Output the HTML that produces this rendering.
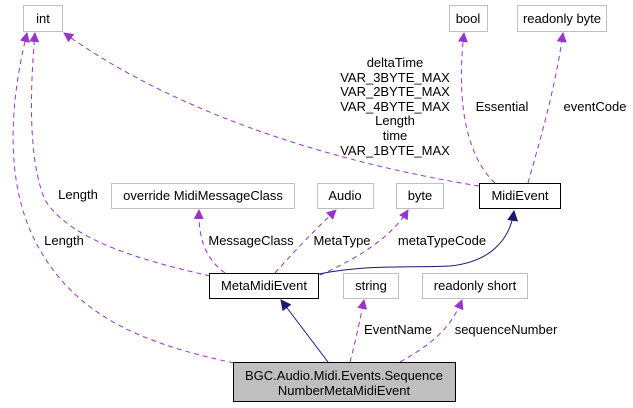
<!DOCTYPE html>
<html><head><style>body{margin:0;background:#fff}svg{display:block}</style></head><body>
<svg width="633" height="408" viewBox="0 0 633 408" xmlns="http://www.w3.org/2000/svg" font-family="Liberation Sans, sans-serif" font-size="13">
<defs>
<marker id="pa" viewBox="0 0 10 10" refX="9" refY="5" markerWidth="10" markerHeight="10" markerUnits="userSpaceOnUse" orient="auto"><path d="M0,0L10,5L0,10z" fill="#9a32cd"/></marker>
<marker id="na" viewBox="0 0 10 10" refX="9" refY="5" markerWidth="11" markerHeight="11" markerUnits="userSpaceOnUse" orient="auto"><path d="M0,0L10,5L0,10z" fill="#191970"/></marker>
</defs>
<g fill="none" stroke="#9a32cd" stroke-dasharray="5,4">
<path d="M234,363 C150,345 80,320 40,250 C5,190 8,110 27,33" marker-end="url(#pa)"/>
<path d="M210,276 C140,260 70,240 45,200 C28,160 30,90 35,33" marker-end="url(#pa)"/>
<path d="M479,186 C380,170 200,130 64,33" marker-end="url(#pa)"/>
<path d="M495,183 C470,160 455,110 464,33" marker-end="url(#pa)"/>
<path d="M528,183 C540,140 555,90 563,33" marker-end="url(#pa)"/>
<path d="M225,273 C210,262 198,245 199,210" marker-end="url(#pa)"/>
<path d="M275,273 C300,245 320,225 336,210" marker-end="url(#pa)"/>
<path d="M320,275 C350,262 390,240 408,210" marker-end="url(#pa)"/>
<path d="M350,362 C356,340 362,310 364,300" marker-end="url(#pa)"/>
<path d="M400,362 C430,345 450,330 462,300" marker-end="url(#pa)"/>
</g>
<g fill="none" stroke="#191970" stroke-width="1">
<path d="M319,274 C370,264 410,268 450,266 C490,262 510,240 514,211" marker-end="url(#na)"/>
<path d="M328,362 L281,300" marker-end="url(#na)"/>
</g>
<g fill="#fff" stroke="#bfbfbf">
<rect x="23.5" y="5.5" width="39" height="26"/>
<rect x="449.5" y="5.5" width="38" height="26"/>
<rect x="517.5" y="5.5" width="89" height="26"/>
<rect x="111.5" y="183.5" width="183" height="25"/>
<rect x="317.5" y="183.5" width="56" height="25"/>
<rect x="396.5" y="183.5" width="47" height="25"/>
<rect x="343.5" y="273.5" width="55" height="25"/>
<rect x="422.5" y="273.5" width="105" height="25"/>
</g>
<g stroke="#000" fill="#fff">
<rect x="479.5" y="183.5" width="81" height="25"/>
<rect x="209.5" y="273.5" width="109" height="25"/>
<rect x="233.5" y="362.5" width="222" height="39" fill="#bfbfbf"/>
</g>
<g fill="#000" text-anchor="middle">
<text x="43" y="23">int</text>
<text x="468" y="23">bool</text>
<text x="562" y="23">readonly byte</text>
<text x="203" y="200">override MidiMessageClass</text>
<text x="345" y="200">Audio</text>
<text x="420" y="200">byte</text>
<text x="520" y="200">MidiEvent</text>
<text x="264" y="290">MetaMidiEvent</text>
<text x="371" y="290">string</text>
<text x="475" y="290">readonly short</text>
<text x="344" y="380">BGC.Audio.Midi.Events.Sequence</text>
<text x="344" y="395">NumberMetaMidiEvent</text>
<text x="395" y="67">deltaTime</text>
<text x="395" y="82">VAR_3BYTE_MAX</text>
<text x="395" y="96">VAR_2BYTE_MAX</text>
<text x="395" y="111">VAR_4BYTE_MAX</text>
<text x="395" y="125">Length</text>
<text x="395" y="140">time</text>
<text x="395" y="155">VAR_1BYTE_MAX</text>
<text x="502" y="111">Essential</text>
<text x="595" y="111">eventCode</text>
<text x="78" y="199">Length</text>
<text x="64" y="245">Length</text>
<text x="251" y="245">MessageClass</text>
<text x="342" y="245">MetaType</text>
<text x="442" y="245">metaTypeCode</text>
<text x="398" y="334">EventName</text>
<text x="506" y="334">sequenceNumber</text>
</g>
</svg>
</body></html>
